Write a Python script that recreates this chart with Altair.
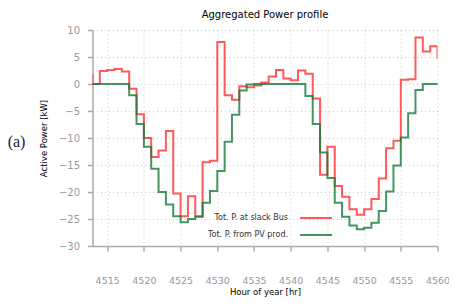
import altair as alt
import pandas as pd

hours = list(range(4513, 4562))

slack_bus = [1.8, 0.0, 2.4, 2.6, 2.8, 2.3, -0.9, -5.6, -10.0, -13.5,
             -12.3, -8.7, -20.3, -24.5, -20.8, -24.5, -14.5, -14.2, 7.8, -2.1,
             -2.9, -0.4, -0.6, -0.3, 0.3, 1.4, 2.6, 1.0, 0.7, 2.5,
             1.9, -2.7, -16.8, -11.6, -18.9, -20.9, -23.2, -24.2, -23.2, -21.3,
             -17.5, -11.9, -10.5, 0.8, 0.9, 8.6, 6.0, 7.0, 4.9]

pv_prod = [0.0, 0.0, 0.0, 0.0, 0.0, 0.0, -2.1, -7.4, -11.6, -15.7,
           -20.0, -22.3, -24.5, -25.6, -25.0, -24.6, -22.0, -19.8, -16.1, -10.7,
           -5.7, -1.2, -0.1, 0.0, 0.0, 0.0, 0.0, 0.0, 0.0, 0.0,
           -2.2, -7.4, -12.7, -17.4, -22.0, -24.6, -26.2, -26.9, -26.6, -25.7,
           -23.5, -19.9, -15.1, -9.9, -5.4, -1.1, 0.0, 0.0, 0.0]

series_names = ["Tot. P. at slack Bus", "Tot. P. from PV prod."]
series_colors = ["#ff3030", "#157a3a"]
x_ticks = [4515, 4520, 4525, 4530, 4535, 4540, 4545, 4550, 4555, 4560]
y_ticks = [-30, -25, -20, -15, -10, -5, 0, 5, 10]

rows = []
for h, a, b in zip(hours, slack_bus, pv_prod):
    rows.append({"hour": h, "value": a, "series": series_names[0]})
    rows.append({"hour": h, "value": b, "series": series_names[1]})
df = pd.DataFrame(rows)

FONT = "DejaVu Sans"

lines = alt.Chart(df).mark_line(
    interpolate="step-before", strokeWidth=2, opacity=0.8, clip=True
).encode(
    x=alt.X("hour:Q",
            scale=alt.Scale(domain=[4513, 4560], nice=False, zero=False),
            axis=alt.Axis(values=x_ticks, title="Hour of year [hr]",
                          format="d", labelPadding=24, titleY=45,
                          labelFontSize=9.5,
                          labelOverlap=False, labelFlush=False,
                          labelBound=False,
                          titleBaseline="middle")),
    y=alt.Y("value:Q",
            scale=alt.Scale(domain=[-30, 10], nice=False),
            axis=alt.Axis(values=y_ticks, title="Active Power [kW]",
                          labelPadding=8, titleX=-49, titleY=108,
                          labelOverlap=False, labelFlush=False,
                          titleAlign="center", titleBaseline="middle")),
    color=alt.Color("series:N",
                    scale=alt.Scale(domain=series_names, range=series_colors),
                    legend=alt.Legend(
                        title=None, orient="none", legendX=217.5, legendY=182,
                        direction="vertical", symbolType="M-3.2,0H3.2",
                        symbolSize=100, symbolStrokeWidth=2,
                        symbolOpacity=0.8, labelAlign="right",
                        labelOffset={"expr": "-34"}, labelFontSize=8,
                        labelFont=FONT, labelColor="#333333",
                        rowPadding=7,
                        padding=0)),
    order=alt.Order("hour:Q"),
)

label_a = alt.Chart(pd.DataFrame({"t": ["(a)"]})).mark_text(
    font="Liberation Serif", fontSize=16, color="#1a1a2e",
    align="center", baseline="middle"
).encode(text="t:N", x=alt.value(-76), y=alt.value(112))

chart = alt.layer(lines, label_a).properties(
    width=345, height=216,
    title=alt.TitleParams("Aggregated Power profile", font=FONT, fontSize=10,
                          fontWeight="normal", color="#000000", offset=5),
    autosize=alt.AutoSizeParams(type="none"),
    padding={"left": 84.5, "top": 22, "right": 11.5, "bottom": 51},
).configure_view(
    stroke=None
).configure_axis(
    labelFont=FONT, labelFontSize=10, labelColor="#999999",
    titleFont=FONT, titleFontSize=8.5, titleFontWeight="normal", titleColor="#000000",
    domainColor="#aaaaaa", domainWidth=1.5, tickColor="#aaaaaa", tickSize=5,
    tickWidth=1.5,
    gridColor="#c8c8c8", gridDash=[1, 3], gridWidth=1,
)

chart.save("out.html", embed_options={"renderer": "svg", "actions": False})
